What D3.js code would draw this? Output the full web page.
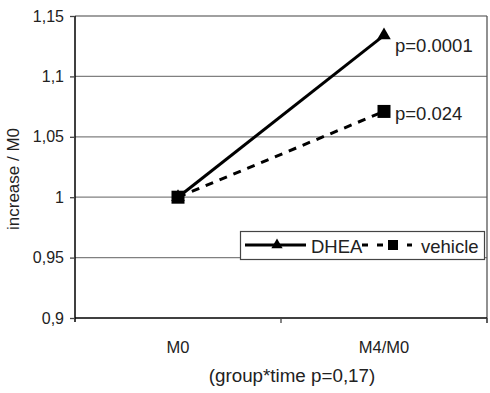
<!DOCTYPE html>
<html><head><meta charset="utf-8">
<script src="https://cdn.jsdelivr.net/npm/d3@7/dist/d3.min.js"></script>
<style>body{margin:0;background:#fff}svg{display:block}text{font-family:"Liberation Sans",Arial,sans-serif;fill:#222}</style>
</head><body><svg id="c" width="490" height="393"></svg>
<script>
const categories = ["M0", "M4/M0"];
const dheaValues = [1, 1.134];
const vehicleValues = [1, 1.071];
const yTicks = [0.9, 0.95, 1, 1.05, 1.1, 1.15];
const yTickLabels = ["0,9", "0,95", "1", "1,05", "1,1", "1,15"];
const pLabels = ["p=0.0001", "p=0.024"];
const seriesNames = ["DHEA", "vehicle"];
const yTitle = "increase / M0";
const xTitle = "(group*time p=0,17)";

const svg = d3.select("#c");
const L = 75, R = 487, T = 16, B = 318;
const x = d3.scaleBand().domain(categories).range([L, R]);
const y = d3.scaleLinear().domain([0.9, 1.15]).range([B, T]);

// gridlines
svg.append("g").selectAll("line").data(yTicks.slice(1)).join("line")
  .attr("x1", L).attr("x2", R).attr("y1", d => y(d)).attr("y2", d => y(d))
  .attr("stroke", "#808080").attr("stroke-width", 1.3);
// right border
svg.append("line").attr("x1", R).attr("x2", R).attr("y1", T).attr("y2", B + 5)
  .attr("stroke", "#555").attr("stroke-width", 1.3);

// y axis
const yAxis = d3.axisLeft(y).tickValues(yTicks).tickSize(5).tickPadding(6)
  .tickFormat((d, i) => yTickLabels[i]);
const gy = svg.append("g").attr("transform", `translate(${L},0)`).call(yAxis);
gy.select(".domain").attr("stroke", "#000").attr("stroke-width", 1.5).attr("d", `M0,${B+4}V${T}`);
gy.selectAll(".tick line").attr("stroke", "#444").attr("stroke-width", 1.3);
gy.selectAll(".tick text").attr("font-size", 16).attr("fill", "#222")
  .attr("font-family", "Liberation Sans, Arial, sans-serif");

// x axis
const gx = svg.append("g").attr("transform", `translate(0,${B})`);
gx.append("line").attr("x1", L).attr("x2", R).attr("stroke", "#000").attr("stroke-width", 1.5);
const xb = x.domain().map(c => x(c) + x.bandwidth());
gx.selectAll("line.tk").data(xb).join("line").attr("class", "tk")
  .attr("x1", d => d).attr("x2", d => d).attr("y1", 0).attr("y2", 5)
  .attr("stroke", "#444").attr("stroke-width", 1.3);
gx.selectAll("text").data(categories).join("text")
  .attr("x", d => x(d) + x.bandwidth() / 2).attr("y", 35)
  .attr("text-anchor", "middle").attr("font-size", 16.5).text(d => d);

// titles
svg.append("text").attr("transform", `translate(19,${(T + B) / 2 + 12}) rotate(-90)`)
  .attr("text-anchor", "middle").attr("font-size", 17).text(yTitle);
svg.append("text").attr("x", 292).attr("y", 382).attr("text-anchor", "middle")
  .attr("font-size", 18.8).text(xTitle);

const cx = c => x(c) + x.bandwidth() / 2;
const line = vals => d3.line().x((d, i) => cx(categories[i])).y(d => y(d))(vals);

svg.append("path").attr("d", line(vehicleValues)).attr("fill", "none")
  .attr("stroke", "#000").attr("stroke-width", 3).attr("stroke-dasharray", "8,7");
svg.append("path").attr("d", line(dheaValues)).attr("fill", "none")
  .attr("stroke", "#000").attr("stroke-width", 3);

const tri = d3.symbol().type(d3.symbolTriangle).size(80);
const sq = d3.symbol().type(d3.symbolSquare).size(169);
svg.selectAll("path.tri").data(dheaValues).join("path").attr("class", "tri")
  .attr("d", tri).attr("transform", (d, i) => `translate(${cx(categories[i])},${y(d)})`);
svg.selectAll("path.sq").data(vehicleValues).join("path").attr("class", "sq")
  .attr("d", sq).attr("transform", (d, i) => `translate(${cx(categories[i])},${y(d)})`);

// p labels
svg.append("text").attr("x", cx(categories[1]) + 11).attr("y", y(dheaValues[1]) + 17)
  .attr("font-size", 18.5).text(pLabels[0]);
svg.append("text").attr("x", cx(categories[1]) + 11).attr("y", y(vehicleValues[1]) + 9)
  .attr("font-size", 18.5).text(pLabels[1]);

// legend
const lg = svg.append("g");
lg.append("rect").attr("x", 240.5).attr("y", 231.5).attr("width", 244).attr("height", 28)
  .attr("fill", "#fff").attr("stroke", "#444").attr("stroke-width", 1.2);
lg.append("line").attr("x1", 245).attr("x2", 306).attr("y1", 245).attr("y2", 245)
  .attr("stroke", "#000").attr("stroke-width", 3);
lg.append("path").attr("d", d3.symbol().type(d3.symbolTriangle).size(55)).attr("transform", "translate(277,245)");
lg.append("line").attr("x1", 362).attr("x2", 412).attr("y1", 245).attr("y2", 245)
  .attr("stroke", "#000").attr("stroke-width", 3).attr("stroke-dasharray", "6,9");
lg.append("path").attr("d", d3.symbol().type(d3.symbolSquare).size(100)).attr("transform", "translate(393,245)");
lg.append("text").attr("x", 311).attr("y", 253).attr("font-size", 18.5).text(seriesNames[0]);
lg.append("text").attr("x", 421).attr("y", 253).attr("font-size", 18.5).text(seriesNames[1]);
</script></body></html>
